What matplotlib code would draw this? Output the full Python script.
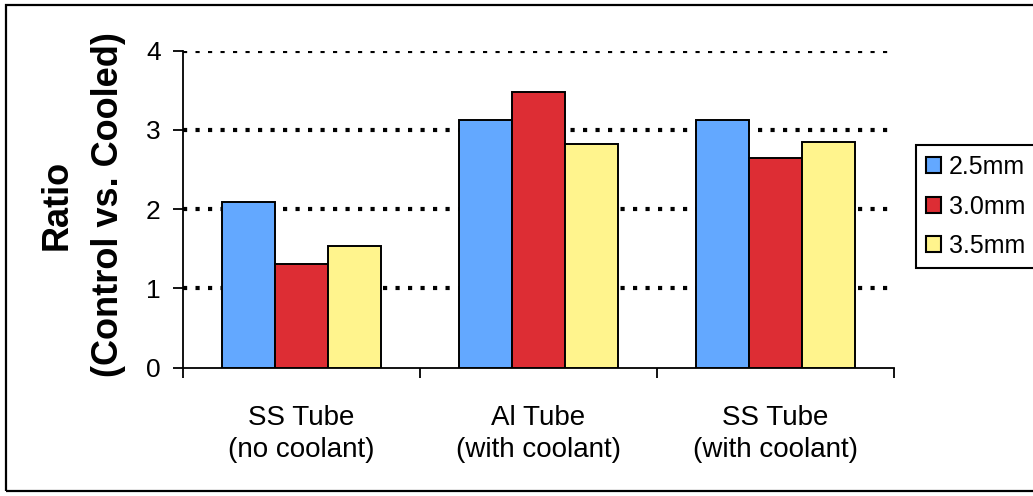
import numpy as np
import matplotlib
matplotlib.use("Agg")
import matplotlib.pyplot as plt
from matplotlib.patches import Rectangle

### Data
categories = ["SS Tube\n(no coolant)", "Al Tube\n(with coolant)", "SS Tube\n(with coolant)"]
series_names = ["2.5mm", "3.0mm", "3.5mm"]
vals_25 = [2.09, 3.12, 3.12]
vals_30 = [1.31, 3.48, 2.65]
vals_35 = [1.54, 2.82, 2.85]
y_ticks = [0, 1, 2, 3, 4]

colors = ["#63a8ff", "#dd2d34", "#fff48d"]

plt.rcParams["font.family"] = ["Liberation Sans", "DejaVu Sans"]

fig = plt.figure(figsize=(10.33, 4.96), dpi=100)
ax = fig.add_axes([183/1033, 1-367.7/496, (894-183)/1033, (367.7-50.7)/496])

x = np.arange(len(categories))
width = 0.225
all_vals = [vals_25, vals_30, vals_35]
for i, (name, vals) in enumerate(zip(series_names, all_vals)):
    ax.bar(x + (i-1)*width, vals, width, color=colors[i], edgecolor="black",
           linewidth=1.4, label=name, zorder=3)

# axes, ticks, grid
ax.set_xlim(-0.5, 2.5)
ax.set_ylim(0, 4)
ax.set_yticks(y_ticks)
ax.set_yticklabels([str(t) for t in y_ticks], fontsize=19)
ax.set_xticks(x)
ax.set_xticklabels(categories, fontsize=20, linespacing=1.3)
ax.set_xticks([-0.5, 0.5, 1.5, 2.5], minor=True)
ax.tick_params(axis="x", which="major", length=0, pad=27)
ax.tick_params(axis="x", which="minor", length=7, width=1.3, direction="out")
ax.tick_params(axis="y", length=7, width=1.3, direction="out", pad=9)
for s in ["top", "right"]:
    ax.spines[s].set_visible(False)
for s in ["left", "bottom"]:
    ax.spines[s].set_linewidth(1.3)
# dotted gridlines, none on the zero line
for t in y_ticks[1:]:
    ax.axhline(t, color="black", linewidth=3, linestyle=(0, (1, 2)), zorder=0)

# y label in two bold lines
fig.text(83/1033, 1-205/496, "Ratio\n(Control vs. Cooled)", rotation=90,
         ha="center", va="center", multialignment="center",
         fontsize=26, fontweight="bold", linespacing=1.6)

# legend
leg = fig.legend(loc="upper left", bbox_to_anchor=(916/1033, 1-145/496),
                 bbox_transform=fig.transFigure, borderaxespad=0,
                 fontsize=18, handlelength=0.6, handleheight=0.6,
                 handletextpad=0.3, labelspacing=0.62, fancybox=False,
                 framealpha=1, edgecolor="black", borderpad=0.4)
leg.get_frame().set_linewidth(1.5)
for h in leg.legend_handles:
    h.set_linewidth(1.5)

# outer chart border (right side is cut off in the original)
fig.patches.append(Rectangle((6/1033, 1-491/496), 1.1, (491-5)/496,
                             transform=fig.transFigure, fill=False,
                             edgecolor="black", linewidth=1.6))

fig.savefig("out.png", dpi=100)
